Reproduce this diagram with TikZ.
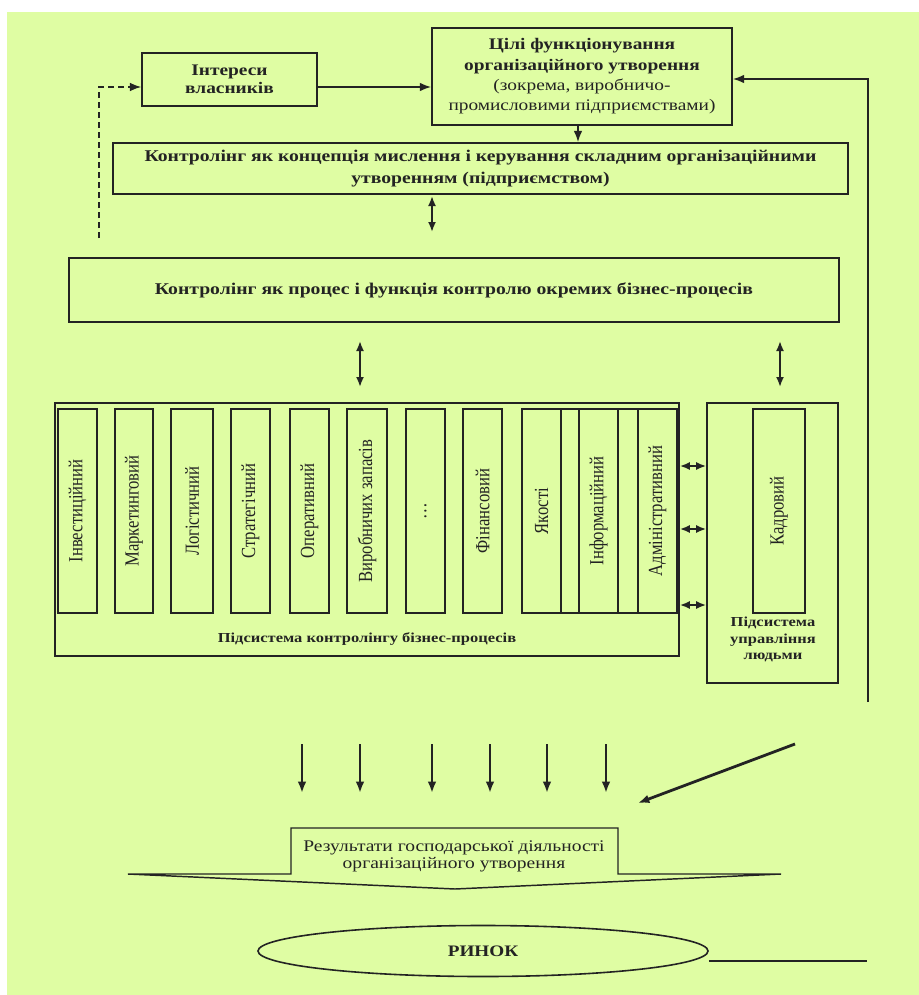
\documentclass[tikz,border=0pt]{standalone}
\usepackage{fontspec}
\usepackage{graphicx}
\setmainfont{Liberation Serif}
\newfontfamily\sfnt[FakeStretch=1.2]{Liberation Serif}
\newcommand{\ctx}[1]{\scalebox{1}[1.2]{#1}}
\usetikzlibrary{arrows.meta,shapes.geometric}
\definecolor{bg}{RGB}{223,253,163}
\definecolor{ln}{RGB}{35,35,35}
\tikzset{
  box/.style={draw=ln, line width=1.2pt, inner sep=0pt, align=center},
  sz/.style 2 args={minimum width=#1*0.75pt, minimum height=#2*0.75pt},
  col/.style={draw=ln, line width=1.2pt, rotate=90, inner sep=0pt, minimum width=204*0.75pt, minimum height=#1*0.75pt, font=\fontsize{12.5}{14}\selectfont},
  arr/.style={-{Latex[length=8.5pt,width=6.5pt]}, draw=ln, line width=1.4pt},
  darr/.style={{Latex[length=7.5pt,width=6pt]}-{Latex[length=7.5pt,width=6pt]}, draw=ln, line width=1.4pt},
  head/.style={font=\sfnt\bfseries\fontsize{12.3}{16.5}\selectfont},
  sublab/.style={align=center, font=\sfnt\bfseries\fontsize{10.3}{12.4}\selectfont}
}
\begin{document}
\begin{tikzpicture}[x=0.75pt,y=-0.75pt, every node/.style={text=ln}]
\useasboundingbox (0,0) rectangle (919,995);
\fill[white] (0,0) rectangle (919,995);
\fill[bg] (7,12) rectangle (919,995);

% top boxes
\node[box, sz={175}{53}, font=\sfnt\bfseries\fontsize{12.1}{13.5}\selectfont] (int) at (229.5,79.5) {Інтереси\\власників};
\node[box, sz={300}{97}, font=\sfnt\fontsize{12.1}{15.2}\selectfont] (goals) at (582,76.5)
  {\textbf{Цілі функціонування}\\\textbf{організаційного утворення}\\(зокрема, виробничо-\\промисловими підприємствами)};
\node[box, sz={735}{51}, head] (concept) at (480.5,168.5)
  {Контролінг як концепція мислення і керування складним організаційними\\утворенням (підприємством)};
\node[box, sz={770}{64}, head] (proc) at (454,290)
  {Контролінг як процес і функція контролю окремих бізнес-процесів};

% business subsystem
\node[box, sz={624}{253}] (bus) at (367,529.5) {};
\node[sublab] (buslab) at (367,639) {Підсистема контролінгу бізнес-процесів};
\node[col=39] (c1) at (77.5,511) {\ctx{Інвестиційний}};
\node[col=38] (c2) at (134,511) {\ctx{Маркетинговий}};
\node[col=42] (c3) at (192,511) {\ctx{Логістичний}};
\node[col=39] (c4) at (250.5,511) {\ctx{Стратегічний}};
\node[col=39] (c5) at (309.5,511) {\ctx{Оперативний}};
\node[col=40] (c6) at (367,511) {\ctx{Виробничих запасів}};
\node[col=39] (c7) at (425.5,511) {\ctx{…}};
\node[col=39] (c8) at (482.5,511) {\ctx{Фінансовий}};
\node[col=39] (c9) at (541.5,511) {\ctx{Якості}};
\node[col=18] (c10) at (570,511) {};
\node[col=39] (c11) at (598.5,511) {\ctx{Інформаційний}};
\node[col=20] (c12) at (628,511) {};
\node[col=39] (c13) at (657.5,511) {\ctx{Адміністративний}};

% people subsystem
\node[box, sz={131}{280}] (hr) at (772.5,543) {};
\node[col=52] (kadr) at (779,511) {\ctx{Кадровий}};
\node[sublab] (hrlab) at (773,639.5) {Підсистема\\управління\\людьми};

% connectors top
\coordinate (yint) at (0,87);
\draw[arr] (int.east |- yint) -- (goals.west |- yint);
\coordinate (dsh) at (99,238);
\draw[arr, dash pattern=on 4.5pt off 3pt, line width=1.1pt] (dsh) |- (int.west |- yint);
\coordinate (fb) at (868,702);
\coordinate (yfb) at (0,79);
\draw[arr] (fb) |- (goals.east |- yfb);
\coordinate (xg) at (578,0);
\draw[arr] (goals.south -| xg) -- (concept.north -| xg);

\coordinate (d1a) at (432,196); \coordinate (d1b) at (432,232);
\draw[darr] (d1a) -- (d1b);
\coordinate (d2a) at (360,341); \coordinate (d2b) at (360,387);
\draw[darr] (d2a) -- (d2b);
\coordinate (d3a) at (780,341); \coordinate (d3b) at (780,387);
\draw[darr] (d3a) -- (d3b);

\coordinate (h1) at (0,466); \coordinate (h2) at (0,529); \coordinate (h3) at (0,605);
\draw[darr] (bus.east |- h1) -- (hr.west |- h1);
\draw[darr] (bus.east |- h2) -- (hr.west |- h2);
\draw[darr] (bus.east |- h3) -- (hr.west |- h3);

% down arrows
\foreach \xx [count=\i] in {302,360,432,490,547,606} {
  \coordinate (dt\i) at (\xx,744); \coordinate (db\i) at (\xx,793);
  \draw[arr, line width=1.9pt] (dt\i) -- (db\i);
}
\coordinate (g1) at (795,744); \coordinate (g2) at (638,803);
\draw[arr, line width=2.1pt] (g1) -- (g2);

% results
\draw[ln, line width=1.1pt] (128,874) -- (291,874) -- (291,828) -- (618,828) -- (618,874) -- (781,874) -- (455,889) -- cycle;
\node[align=center, font=\sfnt\fontsize{12.2}{12.9}\selectfont] (res) at (454,856)
  {Результати господарської діяльності\\організаційного утворення};

% market
\node[draw=ln, line width=1.2pt, ellipse, sz={450}{51}, inner sep=0pt, font=\sfnt\bfseries\fontsize{12}{15}\selectfont] (market) at (483,951) {РИНОК};
\coordinate (m2) at (867,961);
\draw[ln, line width=1.5pt] (market.east |- m2) -- (m2);
\end{tikzpicture}
\end{document}
